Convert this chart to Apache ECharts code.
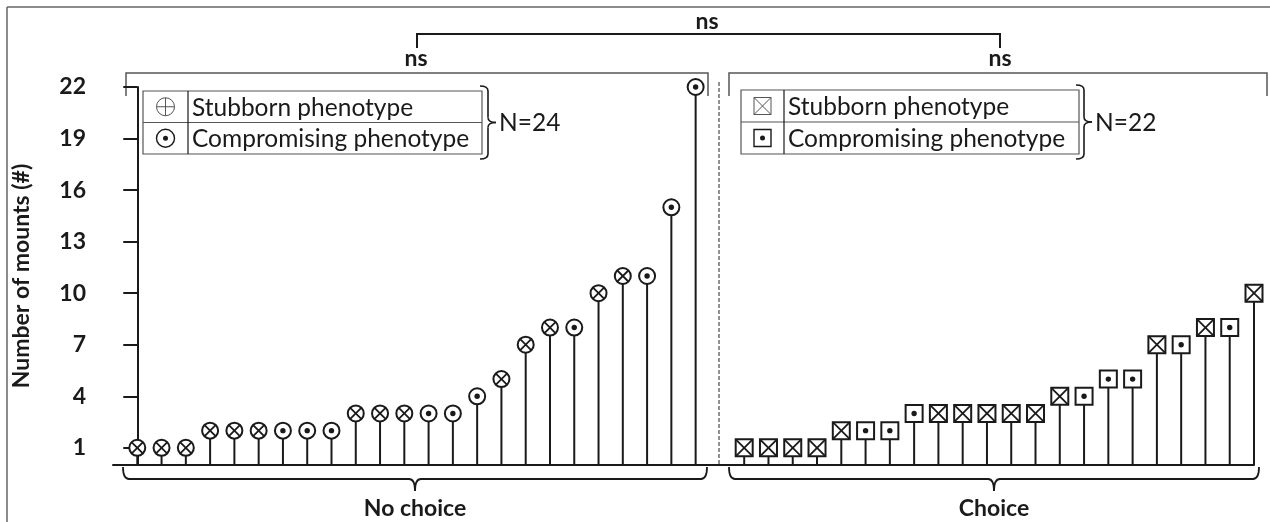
<!DOCTYPE html>
<html>
<head>
<meta charset="utf-8">
<title>Number of mounts</title>
<script src="https://cdn.jsdelivr.net/npm/echarts/dist/echarts.min.js"></script>
<style>
  html, body { margin: 0; padding: 0; background: #ffffff; }
  #chart { width: 1270px; height: 522px; }
</style>
</head>
<body>
<div id="chart"></div>
<script>
// Mounts per animal, sorted ascending within each condition.
// Phenotype codes: 'S' = stubborn, 'C' = compromising.
const groupNames = ['No choice', 'Choice'];
const groupSizes = ['N=24', 'N=22'];
const phenotypeNames = ['Stubborn phenotype', 'Compromising phenotype'];

const noChoiceValues = [1, 1, 1, 2, 2, 2, 2, 2, 2, 3, 3, 3, 3, 3, 4, 5, 7, 8, 8, 10, 11, 11, 15, 22];
const noChoiceTypes  = ['S','S','S','S','S','S','C','C','C','S','S','S','C','C','C','S','S','S','C','S','S','C','C','C'];

const choiceValues = [1, 1, 1, 1, 2, 2, 2, 3, 3, 3, 3, 3, 3, 4, 4, 5, 5, 7, 7, 8, 8, 10];
const choiceTypes  = ['S','S','S','S','S','C','C','C','S','S','S','S','S','S','C','C','C','S','C','S','C','S'];

const yTicks = [1, 4, 7, 10, 13, 16, 19, 22];
const yTitle = 'Number of mounts (#)';
const sigLabel = 'ns';

// Choice animals start two slots after the last no-choice animal
const choiceOffset = noChoiceValues.length + 1;

const noChoiceData = noChoiceValues.map((v, i) => [i, v, noChoiceTypes[i] === 'S' ? 0 : 1]);
const choiceData = choiceValues.map((v, i) => [choiceOffset + i, v, choiceTypes[i] === 'S' ? 0 : 1]);

const INK = '#1a1a1a';
const FONT = 'Lato, "Open Sans", sans-serif';
const TEXT_SIZE = 24.5;
const BOLD_SIZE = 23;

// Stem from zero up to the value, then a hollow marker on top
function makeRenderer(shape) {
  return function (params, api) {
    const x = api.value(0), y = api.value(1), kind = api.value(2);
    const p0 = api.coord([x, 0]);
    const p1 = api.coord([x, y]);
    const children = [{
      type: 'line',
      shape: { x1: p0[0], y1: p0[1], x2: p1[0], y2: p1[1] },
      style: { stroke: INK, lineWidth: 2 }
    }];
    const cx = p1[0], cy = p1[1];
    if (shape === 'circle') {
      const r = 8;
      children.push({ type: 'circle', shape: { cx, cy, r }, style: { fill: '#fff', stroke: INK, lineWidth: 2 } });
      if (kind === 0) {
        const d = r * 0.72;
        children.push({ type: 'line', shape: { x1: cx - d, y1: cy - d, x2: cx + d, y2: cy + d }, style: { stroke: INK, lineWidth: 1.8 } });
        children.push({ type: 'line', shape: { x1: cx - d, y1: cy + d, x2: cx + d, y2: cy - d }, style: { stroke: INK, lineWidth: 1.8 } });
      } else {
        children.push({ type: 'circle', shape: { cx, cy, r: 2.7 }, style: { fill: INK } });
      }
    } else {
      const h = 8.5;
      children.push({ type: 'rect', shape: { x: cx - h, y: cy - h, width: 2 * h, height: 2 * h }, style: { fill: '#fff', stroke: INK, lineWidth: 2 } });
      if (kind === 0) {
        children.push({ type: 'line', shape: { x1: cx - h, y1: cy - h, x2: cx + h, y2: cy + h }, style: { stroke: INK, lineWidth: 1.8 } });
        children.push({ type: 'line', shape: { x1: cx - h, y1: cy + h, x2: cx + h, y2: cy - h }, style: { stroke: INK, lineWidth: 1.8 } });
      } else {
        children.push({ type: 'circle', shape: { cx, cy, r: 2.7 }, style: { fill: INK } });
      }
    }
    return { type: 'group', children };
  };
}

// Quadratic curve piece expressed as a graphic bezierCurve
function curve(x1, y1, cx, cy, x2, y2, stroke, w) {
  return { type: 'bezierCurve', shape: { x1, y1, cpx1: cx, cpy1: cy, x2, y2 }, style: { fill: 'none', stroke, lineWidth: w } };
}
function seg(x1, y1, x2, y2, stroke, w) {
  return { type: 'line', shape: { x1, y1, x2, y2 }, style: { stroke, lineWidth: w } };
}

// Horizontal curly brace opening upward
function hBrace(x1, x2, y0, y1, y2, stroke, w) {
  const cx = (x1 + x2) / 2, r = 6;
  return [
    curve(x1, y0, x1, y1, x1 + r, y1, stroke, w),
    seg(x1 + r, y1, cx - r, y1, stroke, w),
    curve(cx - r, y1, cx, y1, cx, y2, stroke, w),
    curve(cx, y2, cx, y1, cx + r, y1, stroke, w),
    seg(cx + r, y1, x2 - r, y1, stroke, w),
    curve(x2 - r, y1, x2, y1, x2, y0, stroke, w)
  ];
}
// Vertical curly brace opening to the left
function vBrace(x0, x1, x2, yTop, yBot, stroke, w) {
  const ym = (yTop + yBot) / 2, r = 5;
  return [
    curve(x0, yTop, x1, yTop, x1, yTop + r, stroke, w),
    seg(x1, yTop + r, x1, ym - r, stroke, w),
    curve(x1, ym - r, x1, ym, x2, ym, stroke, w),
    curve(x2, ym, x1, ym, x1, ym + r, stroke, w),
    seg(x1, ym + r, x1, yBot - r, stroke, w),
    curve(x1, yBot - r, x1, yBot, x0, yBot, stroke, w)
  ];
}

function legendBox(x, y, w, h, split, iconShape, textX, braceX, sizeText) {
  const rowH = h / 2;
  const ix = (x + split) / 2;
  const y1 = y + rowH / 2, y2 = y + rowH * 1.5;
  const font = `${TEXT_SIZE}px ${FONT}`;
  const els = [
    { type: 'rect', shape: { x, y, width: w, height: h }, style: { fill: '#fff', stroke: '#555', lineWidth: 1.2 } },
    seg(x, y + rowH, x + w, y + rowH, '#555', 1.2),
    seg(split, y, split, y + h, INK, 1.2),
    { type: 'text', style: { text: phenotypeNames[0], x: textX, y: y1 + 1, verticalAlign: 'middle', font, fill: INK } },
    { type: 'text', style: { text: phenotypeNames[1], x: textX, y: y2 + 1, verticalAlign: 'middle', font, fill: INK } },
    ...vBrace(braceX, braceX + 8, braceX + 16, y - 5, y + h + 5, INK, 1.6),
    { type: 'text', style: { text: sizeText, x: braceX + 19, y: y + h / 2 + 1, verticalAlign: 'middle', font, fill: INK } }
  ];
  if (iconShape === 'circle') {
    const r = 9;
    els.push({ type: 'circle', shape: { cx: ix, cy: y1, r }, style: { fill: 'none', stroke: '#555', lineWidth: 1 } });
    els.push(seg(ix - r, y1, ix + r, y1, '#555', 1));
    els.push(seg(ix, y1 - r, ix, y1 + r, '#555', 1));
    els.push({ type: 'circle', shape: { cx: ix, cy: y2, r }, style: { fill: 'none', stroke: INK, lineWidth: 1.4 } });
    els.push({ type: 'circle', shape: { cx: ix, cy: y2, r: 2.5 }, style: { fill: INK } });
  } else {
    const s = 8.5;
    els.push({ type: 'rect', shape: { x: ix - s, y: y1 - s, width: 2 * s, height: 2 * s }, style: { fill: 'none', stroke: '#555', lineWidth: 1 } });
    els.push(seg(ix - s, y1 - s, ix + s, y1 + s, '#555', 1));
    els.push(seg(ix - s, y1 + s, ix + s, y1 - s, '#555', 1));
    els.push({ type: 'rect', shape: { x: ix - s, y: y2 - s, width: 2 * s, height: 2 * s }, style: { fill: 'none', stroke: INK, lineWidth: 1.4 } });
    els.push({ type: 'circle', shape: { cx: ix, cy: y2, r: 2.5 }, style: { fill: INK } });
  }
  return els;
}

const bold = (size) => `bold ${size}px ${FONT}`;

const graphics = [
  // frame edges
  seg(7, 7, 1270, 7, '#666', 1.5),
  seg(7, 7, 7, 522, '#666', 1.5),
  // overall comparison bracket
  { type: 'polyline', shape: { points: [[417, 48], [417, 34], [1000, 34], [1000, 48]] }, style: { fill: 'none', stroke: INK, lineWidth: 2 } },
  { type: 'text', style: { text: sigLabel, x: 707, y: 22, align: 'center', verticalAlign: 'middle', font: bold(BOLD_SIZE), fill: INK } },
  { type: 'text', style: { text: sigLabel, x: 416, y: 59, align: 'center', verticalAlign: 'middle', font: bold(BOLD_SIZE), fill: INK } },
  { type: 'text', style: { text: sigLabel, x: 1000, y: 59, align: 'center', verticalAlign: 'middle', font: bold(BOLD_SIZE), fill: INK } },
  // group brackets
  { type: 'polyline', shape: { points: [[126, 96], [126, 73], [708, 73], [708, 96]] }, style: { fill: 'none', stroke: '#555', lineWidth: 1.5 } },
  { type: 'polyline', shape: { points: [[729, 96], [729, 73], [1267, 73], [1267, 96]] }, style: { fill: 'none', stroke: '#555', lineWidth: 1.5 } },
  // divider between conditions
  { type: 'line', shape: { x1: 719, y1: 82, x2: 719, y2: 465 }, style: { stroke: '#222', lineWidth: 1, lineDash: [4, 2] } },
  // condition braces and names
  ...hBrace(123, 707, 467, 479, 491, INK, 1.8),
  ...hBrace(729, 1259, 467, 479, 491, INK, 1.8),
  { type: 'text', style: { text: groupNames[0], x: 415, y: 509, align: 'center', verticalAlign: 'middle', font: bold(BOLD_SIZE), fill: INK } },
  { type: 'text', style: { text: groupNames[1], x: 994, y: 509, align: 'center', verticalAlign: 'middle', font: bold(BOLD_SIZE), fill: INK } },
  ...legendBox(143, 91, 339, 63, 188, 'circle', 192, 480, groupSizes[0]),
  ...legendBox(741, 90, 338, 64, 784, 'square', 788, 1076, groupSizes[1])
];

const chart = echarts.init(document.getElementById('chart'), null, { renderer: 'canvas' });
chart.setOption({
  animation: false,
  backgroundColor: '#ffffff',
  grid: { left: 113, right: 16, top: 87, bottom: 57, containLabel: false },
  xAxis: {
    type: 'value', min: -1, max: 46,
    axisLine: { show: true, onZero: false, lineStyle: { color: INK, width: 2 } },
    axisTick: { show: false }, axisLabel: { show: false }, splitLine: { show: false }
  },
  yAxis: {
    type: 'value', min: 0, max: 22,
    name: yTitle, nameLocation: 'middle', nameGap: 80, nameRotate: 90,
    nameTextStyle: { fontFamily: FONT, fontWeight: 'bold', fontSize: 23, color: INK },
    axisLine: { show: true, lineStyle: { color: INK, width: 2 } },
    axisTick: { show: true, length: 14, customValues: yTicks, lineStyle: { color: INK, width: 2 } },
    axisLabel: { customValues: yTicks, margin: 27, fontFamily: FONT, fontWeight: 'bold', fontSize: 23, color: INK },
    splitLine: { show: false }
  },
  series: [
    { type: 'custom', name: groupNames[0], renderItem: makeRenderer('circle'), data: noChoiceData, encode: { x: 0, y: 1 } },
    { type: 'custom', name: groupNames[1], renderItem: makeRenderer('square'), data: choiceData, encode: { x: 0, y: 1 } }
  ],
  graphic: { elements: graphics }
});
</script>
</body>
</html>
